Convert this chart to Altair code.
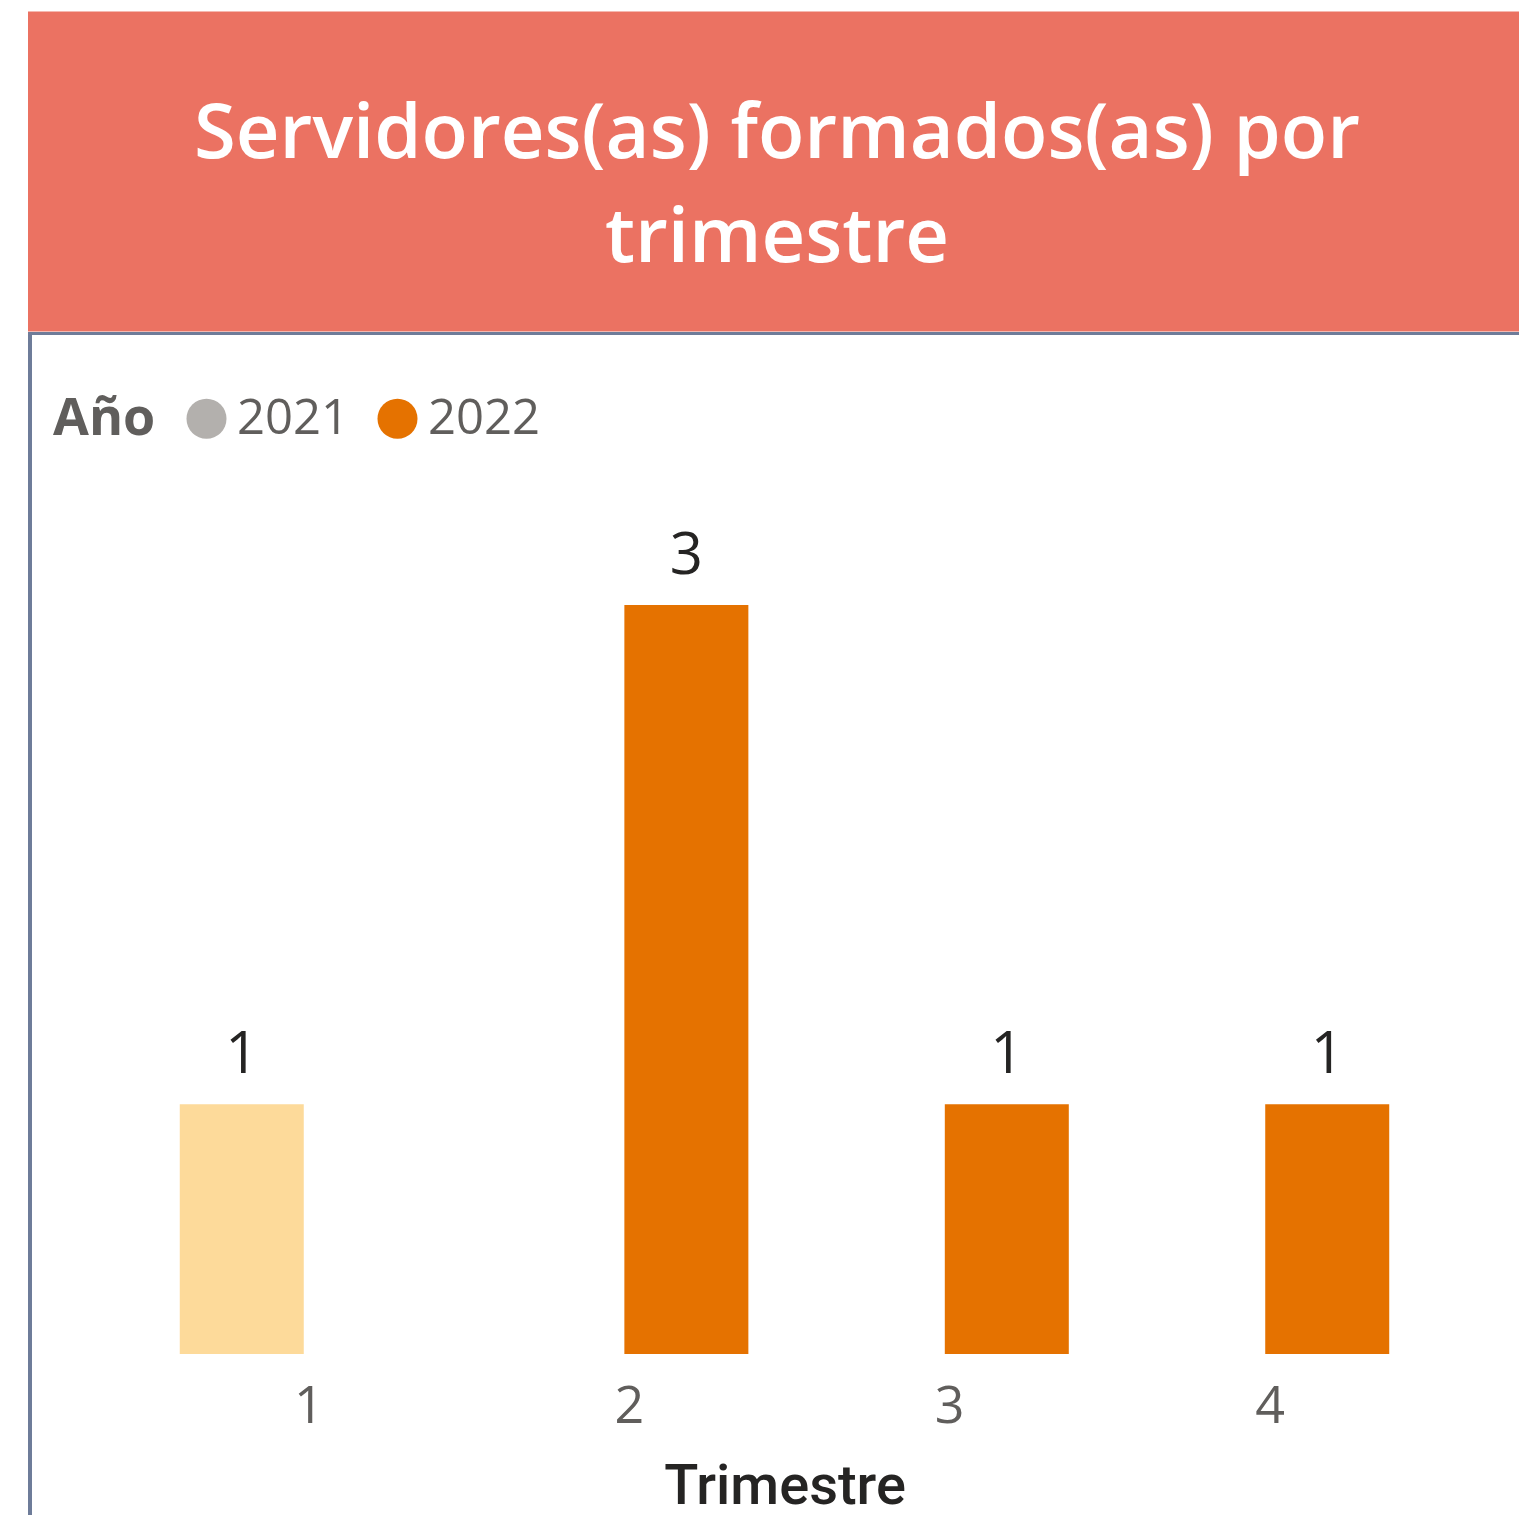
import altair as alt
import pandas as pd

# ---- data ----
trimestres = [1, 2, 3, 4]
anios = ["2021", "2022", "2022", "2022"]
valores = [1, 3, 1, 1]

legend_years = ["2021", "2022"]
legend_colors = ["#B3B0AD", "#E57200"]
highlight_color = "#FDDA9A"

title_lines = ["Servidores(as) formados(as) por", "trimestre"]

df = pd.DataFrame({"trimestre": trimestres, "anio": anios, "valor": valores})
one = pd.DataFrame({"k": [0]})

W, H = 1441, 749

x_enc = alt.X("trimestre:O",
              scale=alt.Scale(paddingInner=0.225, paddingOuter=0.361),
              axis=alt.Axis(title="Trimestre", labelAngle=0, domain=False, ticks=False,
                            tickSize=0, grid=False, labelPadding=27, labelOffset=5,
                            labelFont="Open Sans", labelFontSize=52, labelColor="#605E5C",
                            titleFont="Roboto", titleFontWeight=500, titleFontSize=56,
                            titleColor="#252423", titleBaseline="alphabetic", titleY=149))
xo_enc = alt.XOffset("anio:N", scale=alt.Scale(domain=legend_years, paddingInner=0, paddingOuter=0))
y_enc = alt.Y("valor:Q", scale=alt.Scale(domain=[0, 3], nice=False), axis=None)

color_enc = alt.condition(
    alt.datum.anio == "2021",
    alt.value(highlight_color),
    alt.Color("anio:N",
              scale=alt.Scale(domain=legend_years, range=legend_colors),
              legend=alt.Legend(title="Año", orient="none", legendX=-11, legendY=-211,
                                direction="horizontal", titleOrient="left",
                                titleFont="Open Sans", titleFontSize=52, titleFontWeight="bold",
                                titleColor="#605E5C", titlePadding=26,
                                labelFont="Open Sans", labelFontSize=49, labelColor="#605E5C",
                                labelOffset=6, labelLimit=400, columnPadding=23,
                                symbolType="circle", symbolSize=1600, symbolStrokeWidth=0,
                                symbolOpacity=1)),
)

bars = alt.Chart(df).mark_bar(size=124).encode(x=x_enc, xOffset=xo_enc, y=y_enc, color=color_enc)

labels = alt.Chart(df).mark_text(font="Open Sans", fontSize=58, color="#252423",
                                 baseline="alphabetic", dy=-31).encode(
    x=alt.X("trimestre:O"), xOffset=alt.XOffset("anio:N"), y=alt.Y("valor:Q"),
    text=alt.Text("valor:Q"))

banner = alt.Chart(one).mark_rect(color="#EB7262").encode(
    x=alt.value(-36), x2=alt.value(1480), y=alt.value(-593.5), y2=alt.value(-273.5))

title = alt.Chart(one).mark_text(font="Open Sans", fontSize=76, fontWeight=600, color="#FFFFFF",
                                 align="center", baseline="alphabetic", lineHeight=104).encode(
    x=alt.value(713), y=alt.value(-447), text=alt.value(title_lines))

top_border = alt.Chart(one).mark_rule(color="#6E7C99", strokeWidth=3).encode(
    x=alt.value(-36), x2=alt.value(1480), y=alt.value(-271.5))

left_border = alt.Chart(one).mark_rule(color="#6E7C99", strokeWidth=4).encode(
    x=alt.value(-34), y=alt.value(-273), y2=alt.value(1000))

chart = alt.layer(banner, title, top_border, left_border, bars, labels).properties(
    width=W, height=H,
    autosize=alt.AutoSizeParams(type="none"),
    padding={"left": 56, "top": 597, "right": 14, "bottom": 161},
    background="white",
).configure_view(stroke=None)

chart.save("out.html", embed_options={"renderer": "svg", "actions": False})
